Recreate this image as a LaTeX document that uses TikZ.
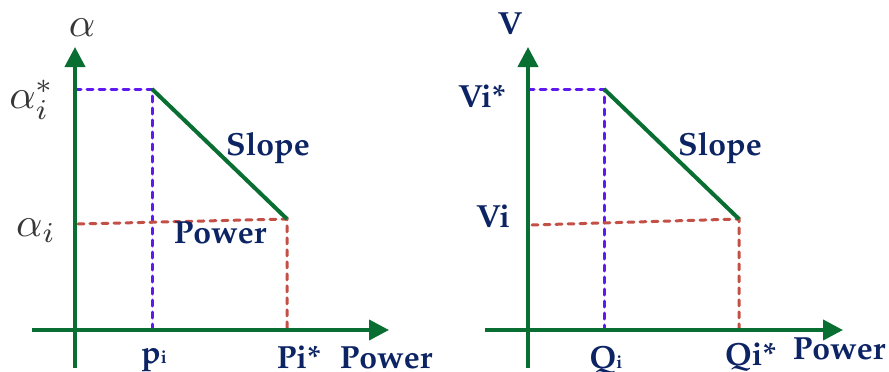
\documentclass[tikz,border=0pt]{standalone}
\usepackage[T1,TU]{fontenc}
\usetikzlibrary{arrows.meta}
\definecolor{axgreen}{RGB}{8,110,50}
\definecolor{dblue}{RGB}{95,25,240}
\definecolor{dred}{RGB}{195,80,70}
\definecolor{navy}{RGB}{12,36,100}
\definecolor{agray}{RGB}{55,55,55}
\newcommand\palb{\fontencoding{T1}\fontfamily{ppl}\fontseries{b}\selectfont}
\tikzset{
  axis/.style={draw=axgreen,line width=4pt},
  axisarrow/.style={axis,-{Triangle[length=20pt,width=20pt]}},
  slopeline/.style={draw=axgreen,line width=4pt},
  bluedash/.style={draw=dblue,line width=3pt,line cap=round,dash pattern=on 6pt off 6pt},
  reddash/.style={draw=dred,line width=3pt,line cap=round,dash pattern=on 6pt off 6pt},
  lbl/.style={inner sep=0pt,text=navy,font=\palb\fontsize{32}{34}\selectfont},
  mlbl/.style={inner sep=0pt,text=agray,scale=4.1}
}
\newcommand\smi{{\fontsize{18}{18}\selectfont i}}
\begin{document}
\begin{tikzpicture}[x=1pt,y=-1pt]
\useasboundingbox (0,0) rectangle (889,372);
% ---------- left graph ----------
\coordinate (yb1) at (75,368);
\coordinate (yt1) at (75,47);
\coordinate (xl1) at (32,330);
\coordinate (xr1) at (389,330);
\coordinate (AL1) at (75,89);
\coordinate (A1) at (152,89);
\coordinate (P1) at (152,330);
\coordinate (B1) at (287,219);
\coordinate (RL1) at (78,224);
\coordinate (R1) at (287,330);
\draw[bluedash] (AL1) -- (A1) -- (P1);
\draw[reddash] (RL1) -- (B1) -- (R1);
\draw[slopeline] (A1) -- (B1);
\draw[axisarrow] (yb1) -- (yt1);
\draw[axisarrow] (xl1) -- (xr1);
\node[mlbl] (ya1) at (82,28) {$\alpha$};
\node[mlbl] (as1) at (32,100) {$\alpha_i^*$};
\node[mlbl] (ai1) at (36,231) {$\alpha_i$};
\node[lbl] (sl1) at (268,148) {Slope};
\node[lbl] (pw1) at (220,233) {Power};
\node[lbl] (pi1) at (154,360) {p\smi};
\node[lbl] (ps1) at (299,357) {Pi*};
\node[lbl] (px1) at (386,358) {Power};
% ---------- right graph ----------
\coordinate (yb2) at (528,368);
\coordinate (yt2) at (528,47);
\coordinate (xl2) at (485,330);
\coordinate (xr2) at (843,330);
\coordinate (AL2) at (528,89);
\coordinate (A2) at (604,89);
\coordinate (P2) at (604,330);
\coordinate (B2) at (739,219);
\coordinate (RL2) at (532,225);
\coordinate (R2) at (739,330);
\draw[bluedash] (AL2) -- (A2) -- (P2);
\draw[reddash] (RL2) -- (B2) -- (R2);
\draw[slopeline] (A2) -- (B2);
\draw[axisarrow] (yb2) -- (yt2);
\draw[axisarrow] (xl2) -- (xr2);
\node[lbl] (yv2) at (510,24) {V};
\node[lbl] (vs2) at (482,96) {Vi*};
\node[lbl] (vi2) at (493,216) {Vi};
\node[lbl] (sl2) at (720,148) {Slope};
\node[lbl] (qi2) at (606,360) {Q\smi};
\node[lbl] (qs2) at (751,357) {Qi*};
\node[lbl] (px2) at (839,349) {Power};
\end{tikzpicture}
\end{document}
